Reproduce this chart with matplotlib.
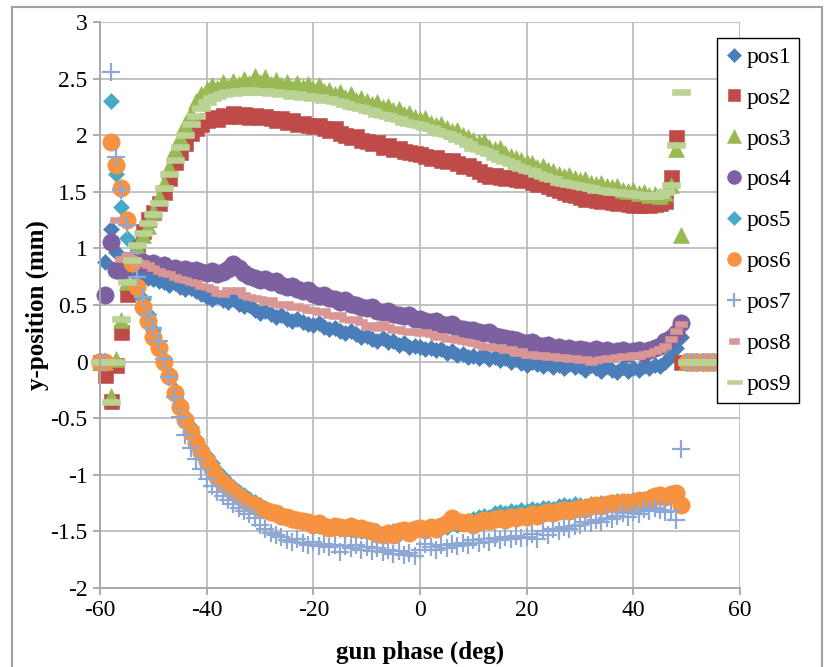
import numpy as np
import matplotlib
matplotlib.use("Agg")
import matplotlib.pyplot as plt
from matplotlib.patches import Rectangle
from matplotlib.ticker import FixedLocator, FixedFormatter

plt.rcParams['font.family'] = ['Liberation Serif', 'DejaVu Serif']
plt.rcParams['axes.unicode_minus'] = False

# gun phase scan, 1 deg steps
gun_phase = np.arange(-60, 56, 1)

pos1 = [0.00, 0.88, 1.17, 0.97, 0.86, 0.83, 0.80, 0.78, 0.77, 0.74,   # -60..-51
        0.73, 0.71, 0.70, 0.68, 0.69, 0.66, 0.64, 0.65, 0.62, 0.60,   # -50..-41
        0.57, 0.55, 0.58, 0.54, 0.53, 0.55, 0.51, 0.49, 0.50, 0.46,   # -40..-31
        0.43, 0.45, 0.42, 0.39, 0.41, 0.38, 0.36, 0.38, 0.35, 0.33,   # -30..-21
        0.32, 0.34, 0.31, 0.29, 0.30, 0.27, 0.25, 0.27, 0.24, 0.22,   # -20..-11
        0.23, 0.20, 0.18, 0.21, 0.17, 0.18, 0.15, 0.16, 0.13, 0.14,   # -10..-1
        0.13, 0.11, 0.12, 0.10, 0.11, 0.08, 0.09, 0.06, 0.07, 0.04,   # 0..9
        0.05, 0.03, 0.06, 0.02, 0.04, 0.01, 0.03, 0.00, 0.02, -0.01,  # 10..19
        -0.03, 0.00, -0.02, -0.04, -0.01, -0.05, -0.03, -0.06, -0.02, -0.05,  # 20..29
        -0.04, -0.07, -0.03, -0.06, -0.08, -0.04, -0.07, -0.09, -0.05, -0.08,  # 30..39
        -0.06, -0.07, -0.04, -0.06, -0.03, -0.04, 0.00, 0.05, 0.12, 0.22,  # 40..49
        0.00, 0.00, 0.00, 0.00, 0.00, 0.00]                           # 50..55

pos2 = [0.00, -0.12, -0.35, -0.03, 0.26, 0.60, 0.88, 1.02, 1.15, 1.26,
        1.32, 1.40, 1.50, 1.62, 1.76, 1.85, 1.93, 2.02, 2.06, 2.10,
        2.13, 2.16, 2.14, 2.18, 2.17, 2.20, 2.17, 2.19, 2.16, 2.18,
        2.16, 2.17, 2.15, 2.13, 2.15, 2.12, 2.13, 2.10, 2.11, 2.09,
        2.08, 2.09, 2.06, 2.05, 2.06, 2.02, 2.00, 1.98, 1.99, 1.96,
        1.95, 1.93, 1.94, 1.90, 1.91, 1.88, 1.89, 1.86, 1.85, 1.84,
        1.83, 1.82, 1.80, 1.81, 1.78, 1.77, 1.78, 1.75, 1.73, 1.74,
        1.71, 1.68, 1.66, 1.64, 1.65, 1.63, 1.62, 1.63, 1.61, 1.60,
        1.61, 1.59, 1.57, 1.58, 1.55, 1.53, 1.52, 1.50, 1.48, 1.47,
        1.45, 1.44, 1.45, 1.43, 1.42, 1.43, 1.41, 1.40, 1.41, 1.39,
        1.38, 1.38, 1.39, 1.38, 1.39, 1.40, 1.42, 1.63, 1.98, 0.00,
        0.00, 0.00, 0.00, 0.00, 0.00, 0.00]

pos3 = [0.00, 0.00, -0.30, 0.02, 0.37, 0.70, 0.88, 1.02, 1.12, 1.20,
        1.33, 1.46, 1.58, 1.72, 1.88, 1.98, 2.10, 2.20, 2.30, 2.36,
        2.41, 2.44, 2.42, 2.47, 2.43, 2.48, 2.45, 2.50, 2.46, 2.52,
        2.47, 2.51, 2.45, 2.49, 2.44, 2.47, 2.42, 2.46, 2.43, 2.45,
        2.41, 2.44, 2.39, 2.40, 2.36, 2.38, 2.34, 2.36, 2.31, 2.33,
        2.30, 2.28, 2.29, 2.25, 2.26, 2.22, 2.23, 2.19, 2.20, 2.16,
        2.14, 2.15, 2.11, 2.09, 2.10, 2.06, 2.04, 2.05, 2.00, 1.98,
        1.96, 1.94, 1.95, 1.90, 1.88, 1.89, 1.84, 1.82, 1.80, 1.78,
        1.76, 1.75, 1.72, 1.73, 1.69, 1.68, 1.66, 1.64, 1.65, 1.62,
        1.60, 1.61, 1.58, 1.57, 1.58, 1.55, 1.54, 1.55, 1.52, 1.51,
        1.52, 1.49, 1.50, 1.47, 1.48, 1.46, 1.49, 1.56, 1.88, 1.12,
        0.00, 0.00, 0.00, 0.00, 0.00, 0.00]

pos4 = [0.00, 0.59, 1.06, 0.81, 0.80, 0.83, 0.88, 0.86, 0.88, 0.85,
        0.87, 0.84, 0.85, 0.82, 0.83, 0.80, 0.82, 0.80, 0.81, 0.79,
        0.78, 0.80, 0.77, 0.79, 0.82, 0.86, 0.83, 0.78, 0.76, 0.74,
        0.72, 0.73, 0.70, 0.71, 0.68, 0.66, 0.67, 0.64, 0.62, 0.63,
        0.60, 0.58, 0.59, 0.56, 0.55, 0.53, 0.54, 0.51, 0.50, 0.48,
        0.47, 0.48, 0.45, 0.44, 0.45, 0.42, 0.41, 0.40, 0.41, 0.38,
        0.38, 0.36, 0.35, 0.36, 0.33, 0.32, 0.33, 0.30, 0.29, 0.28,
        0.28, 0.26, 0.25, 0.26, 0.23, 0.22, 0.21, 0.20, 0.19, 0.17,
        0.16, 0.17, 0.15, 0.14, 0.15, 0.12, 0.13, 0.11, 0.12, 0.10,
        0.11, 0.10, 0.09, 0.11, 0.09, 0.10, 0.08, 0.09, 0.10, 0.08,
        0.09, 0.10, 0.08, 0.10, 0.12, 0.14, 0.18, 0.21, 0.25, 0.34,
        0.00, 0.00, 0.00, 0.00, 0.00, 0.00]

pos5 = [0.00, 0.00, 2.30, 1.66, 1.37, 1.09, 0.85, 0.68, 0.55, 0.42,
        0.28, 0.15, 0.02, -0.10, -0.25, -0.37, -0.48, -0.58, -0.68, -0.76,
        -0.83, -0.90, -0.97, -1.02, -1.07, -1.11, -1.15, -1.18, -1.21, -1.24,
        -1.27, -1.29, -1.32, -1.34, -1.35, -1.37, -1.39, -1.40, -1.42, -1.43,
        -1.44, -1.45, -1.45, -1.47, -1.46, -1.48, -1.47, -1.49, -1.48, -1.50,
        -1.49, -1.51, -1.50, -1.52, -1.51, -1.50, -1.52, -1.50, -1.49, -1.50,
        -1.48, -1.49, -1.47, -1.46, -1.45, -1.46, -1.43, -1.44, -1.42, -1.41,
        -1.39, -1.37, -1.36, -1.37, -1.34, -1.33, -1.34, -1.32, -1.33, -1.31,
        -1.32, -1.30, -1.31, -1.29, -1.29, -1.30, -1.28, -1.27, -1.28, -1.26,
        -1.27, -1.28, -1.26, -1.27, -1.25, -1.26, -1.24, -1.23, -1.25, -1.23,
        -1.22, -1.23, -1.21, -1.20, -1.21, -1.19, -1.19, -1.17, -1.16, -1.24,
        0.00, 0.00, 0.00, 0.00, 0.00, 0.00]

pos6 = [0.00, 0.00, 1.94, 1.74, 1.53, 1.25, 0.87, 0.66, 0.48, 0.36,
        0.22, 0.12, 0.00, -0.13, -0.28, -0.40, -0.52, -0.62, -0.72, -0.80,
        -0.88, -0.95, -1.02, -1.07, -1.11, -1.15, -1.19, -1.22, -1.25, -1.27,
        -1.29, -1.31, -1.33, -1.34, -1.36, -1.37, -1.39, -1.40, -1.41, -1.42,
        -1.44, -1.43, -1.45, -1.47, -1.45, -1.46, -1.47, -1.45, -1.48, -1.47,
        -1.49, -1.50, -1.52, -1.53, -1.51, -1.53, -1.50, -1.49, -1.51, -1.48,
        -1.47, -1.49, -1.46, -1.48, -1.45, -1.43, -1.38, -1.41, -1.43, -1.42,
        -1.44, -1.42, -1.40, -1.41, -1.39, -1.38, -1.40, -1.37, -1.38, -1.36,
        -1.37, -1.35, -1.36, -1.34, -1.33, -1.34, -1.32, -1.31, -1.32, -1.30,
        -1.29, -1.30, -1.28, -1.27, -1.28, -1.26, -1.25, -1.26, -1.24, -1.25,
        -1.24, -1.22, -1.23, -1.21, -1.19, -1.18, -1.20, -1.17, -1.16, -1.27,
        0.00, 0.00, 0.00, 0.00, 0.00, 0.00]

pos7 = [0.00, 0.00, 2.56, 1.81, 1.52, 1.21, 0.96, 0.75, 0.57, 0.41,
        0.30, 0.18, 0.02, -0.14, -0.31, -0.49, -0.65, -0.76, -0.86, -0.95,
        -1.04, -1.10, -1.15, -1.19, -1.22, -1.26, -1.29, -1.32, -1.35, -1.38,
        -1.44, -1.48, -1.51, -1.53, -1.55, -1.58, -1.59, -1.57, -1.60, -1.62,
        -1.59, -1.63, -1.61, -1.64, -1.62, -1.68, -1.63, -1.65, -1.62, -1.66,
        -1.64, -1.67, -1.65, -1.68, -1.66, -1.70, -1.67, -1.71, -1.69, -1.72,
        -1.66, -1.61, -1.64, -1.66, -1.62, -1.65, -1.61, -1.63, -1.60, -1.62,
        -1.58, -1.60, -1.57, -1.59, -1.56, -1.58, -1.55, -1.57, -1.54, -1.56,
        -1.55, -1.52, -1.57, -1.50, -1.53, -1.48, -1.50, -1.46, -1.48, -1.45,
        -1.44, -1.42, -1.43, -1.40, -1.42, -1.38, -1.39, -1.36, -1.34, -1.37,
        -1.33, -1.35, -1.30, -1.32, -1.29, -1.31, -1.33, -1.32, -1.40, -0.77,
        0.00, 0.00, 0.00, 0.00, 0.00, 0.00]

pos8 = [0.00, 0.00, 0.00, 1.25, 0.91, 0.93, 0.90, 0.88, 0.87, 0.85,
        0.83, 0.80, 0.78, 0.77, 0.75, 0.73, 0.72, 0.70, 0.69, 0.67,
        0.66, 0.64, 0.61, 0.60, 0.63, 0.62, 0.63, 0.59, 0.57, 0.56,
        0.55, 0.53, 0.54, 0.51, 0.50, 0.51, 0.48, 0.49, 0.47, 0.46,
        0.46, 0.44, 0.45, 0.41, 0.40, 0.41, 0.38, 0.37, 0.38, 0.35,
        0.31, 0.32, 0.30, 0.33, 0.31, 0.28, 0.29, 0.27, 0.26, 0.27,
        0.25, 0.26, 0.24, 0.22, 0.23, 0.20, 0.21, 0.19, 0.18, 0.17,
        0.16, 0.15, 0.13, 0.14, 0.12, 0.13, 0.10, 0.11, 0.08, 0.09,
        0.06, 0.07, 0.05, 0.06, 0.04, 0.05, 0.03, 0.04, 0.02, 0.03,
        0.01, 0.02, 0.00, 0.01, 0.02, 0.03, 0.02, 0.04, 0.05, 0.04,
        0.06, 0.05, 0.07, 0.08, 0.09, 0.11, 0.14, 0.20, 0.27, 0.33,
        0.00, 0.00, 0.00, 0.00, 0.00, 0.00]

pos9 = [0.00, 0.00, -0.36, 0.00, 0.38, 0.70, 0.90, 1.03, 1.14, 1.22,
        1.30, 1.40, 1.53, 1.66, 1.78, 1.90, 2.00, 2.10, 2.17, 2.24,
        2.29, 2.33, 2.35, 2.36, 2.38, 2.37, 2.39, 2.38, 2.40, 2.38,
        2.38, 2.39, 2.37, 2.38, 2.36, 2.37, 2.35, 2.36, 2.34, 2.35,
        2.33, 2.34, 2.31, 2.32, 2.30, 2.29, 2.28, 2.26, 2.25, 2.24,
        2.22, 2.21, 2.19, 2.18, 2.17, 2.15, 2.14, 2.12, 2.11, 2.10,
        2.09, 2.07, 2.06, 2.04, 2.02, 2.01, 1.99, 1.97, 1.95, 1.92,
        1.89, 1.88, 1.86, 1.84, 1.81, 1.79, 1.77, 1.75, 1.73, 1.71,
        1.69, 1.68, 1.66, 1.64, 1.62, 1.61, 1.59, 1.58, 1.57, 1.56,
        1.55, 1.54, 1.53, 1.52, 1.52, 1.51, 1.50, 1.50, 1.49, 1.49,
        1.48, 1.47, 1.47, 1.46, 1.46, 1.47, 1.50, 1.56, 1.91, 2.38,
        0.00, 0.00, 0.00, 0.00, 0.00, 0.00]

series_names = ["pos1", "pos2", "pos3", "pos4", "pos5",
                "pos6", "pos7", "pos8", "pos9"]

x_ticks = [-60, -40, -20, 0, 20, 40, 60]
x_tick_labels = ["-60", "-40", "-20", "0", "20", "40", "60"]
y_ticks = [-2, -1.5, -1, -0.5, 0, 0.5, 1, 1.5, 2, 2.5, 3]
y_tick_labels = ["-2", "-1.5", "-1", "-0.5", "0", "0.5", "1", "1.5", "2", "2.5", "3"]

# short bar markers for the last two series
bar_thin = [(-1, -0.55), (1, -0.55), (1, 0.55), (-1, 0.55), (-1, -0.55)]
bar_wide = [(-1, -0.33), (1, -0.33), (1, 0.33), (-1, 0.33), (-1, -0.33)]

styles = [
    dict(marker="D", ms=8.6, color="#4A7EBB"),
    dict(marker="s", ms=10.8, color="#BE4B48"),
    dict(marker="^", ms=12, color="#98B954"),
    dict(marker="o", ms=12.5, color="#7D60A0"),
    dict(marker="D", ms=8.6, color="#46AAC5"),
    dict(marker="o", ms=12.5, color="#F69240"),
    dict(marker="+", ms=12.5, color="#8EA8D6", mew=1.6),
    dict(marker=bar_thin, ms=9, color="#DA9694"),
    dict(marker=bar_wide, ms=13.5, color="#BBD295"),
]

all_series = [pos1, pos2, pos3, pos4, pos5, pos6, pos7, pos8, pos9]

W, H = 830, 667
fig = plt.figure(figsize=(W / 100, H / 100), dpi=100)
ax = fig.add_axes([100 / W, 1 - 588 / H, 640 / W, 566 / H])

handles = []
for name, vals, st in zip(series_names, all_series, styles):
    kw = dict(linestyle="none", marker=st["marker"], markersize=st["ms"],
              color=st["color"], markerfacecolor=st["color"],
              markeredgecolor=st["color"], clip_on=False)
    if st["marker"] == "+":
        kw["markeredgewidth"] = st["mew"]
    else:
        kw["markeredgewidth"] = 0.4
    h, = ax.plot(gun_phase, vals, label=name, **kw)
    handles.append(h)

ax.set_xlim(-60, 60)
ax.set_ylim(-2, 3)
ax.xaxis.set_major_locator(FixedLocator(x_ticks))
ax.xaxis.set_major_formatter(FixedFormatter(x_tick_labels))
ax.yaxis.set_major_locator(FixedLocator(y_ticks))
ax.yaxis.set_major_formatter(FixedFormatter(y_tick_labels))

grid_color = "#BDBDBD"
ax.grid(True, color=grid_color, linewidth=1.3, zorder=0)
ax.set_axisbelow(True)
for side in ["top", "right"]:
    ax.spines[side].set_visible(False)
for side in ["left", "bottom"]:
    ax.spines[side].set_color("#A6A6A6")
    ax.spines[side].set_linewidth(1.3)
ax.tick_params(axis="both", direction="out", length=5, width=1.3,
               color="#A6A6A6", labelsize=17, pad=4)

ax.set_xlabel("gun phase (deg)", fontsize=18, fontweight="bold", labelpad=14)
ax.set_ylabel("y-position (mm)", fontsize=18, fontweight="bold", labelpad=1)

leg = ax.legend(handles=handles, loc="upper left",
                bbox_to_anchor=(717 / W, 1 - 38 / H),
                bbox_transform=fig.transFigure, borderaxespad=0,
                fontsize=17, numpoints=1, markerscale=0.8,
                handlelength=0.7, handletextpad=0.2, borderpad=0.35,
                labelspacing=0.82, frameon=True, fancybox=False,
                framealpha=1.0, edgecolor="black")
leg.get_frame().set_linewidth(1.0)
leg.set_zorder(10)

# chart-area border
fig.patches.append(Rectangle((12 / W, -0.02), (822 - 12) / W, 1 - 7 / H + 0.02,
                             transform=fig.transFigure, fill=False,
                             edgecolor="#A0A0A0", linewidth=1.5))

fig.savefig("out.png", dpi=100)
